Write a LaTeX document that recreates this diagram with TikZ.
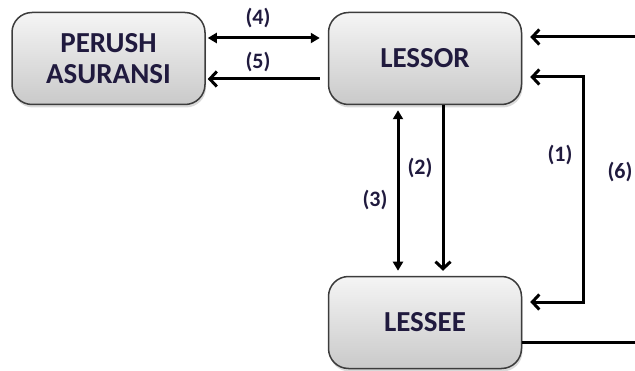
\documentclass[tikz,border=0pt]{standalone}
\usepackage{fontspec}
\setmainfont{Carlito}
\usetikzlibrary{positioning}
\usetikzlibrary{arrows.meta}
\usetikzlibrary{shadows}
\definecolor{txtdark}{RGB}{32,26,62}
\definecolor{boxline}{RGB}{60,60,60}
\tikzset{
	every node/.style = {font=\bfseries\fontsize{22}{26}\selectfont, text=txtdark},
	party/.style = {draw=boxline, line width=1.5pt, rounded corners=20pt,
		top color=gray!8, bottom color=gray!42,
		drop shadow={opacity=0.3, shadow xshift=1pt, shadow yshift=-3pt},
		minimum width=193pt, minimum height=92pt, align=center,
		font=\bfseries\fontsize{29}{31}\selectfont},
	flow/.style = {line width=3pt, black},
	fullhead/.style = {flow, {Triangle[length=9pt,width=10pt]}-{Triangle[length=9pt,width=10pt]}},
	openhead/.style = {flow, -{Straight Barb[length=7pt,width=15pt,line width=3pt]}},
	openboth/.style = {flow, {Straight Barb[length=7pt,width=15pt,line width=3pt]}-{Straight Barb[length=7pt,width=15pt,line width=3pt]}}
}

\begin{document}
\begin{tikzpicture}[x=1pt, y=1pt]
		\useasboundingbox (0,0) rectangle (635,370);
		% parties
		\node[party] (perush) at (108.5,311.5) {PERUSH\\ASURANSI};
		\node[party] (lessor) at (425,311.5) {LESSOR};
		\node[party] (lessee) at (425,47.5) {LESSEE};
		
		% free ends at the right edge
		\coordinate (edgetop) at (635,333);
		\coordinate (edgebot) at (635,28);
		
		% insurer and lessor
		\draw[fullhead, shorten <=2pt, shorten >=8pt] ([yshift=20.5pt]perush.east) -- ([yshift=20.5pt]lessor.west);
		\draw[openhead, shorten <=8pt, shorten >=2pt] ([yshift=-20.5pt]lessor.west) -- ([yshift=-20.5pt]perush.east);
		
		% lessor and lessee
		\draw[fullhead, shorten <=5pt, shorten >=5pt] ([xshift=-27pt]lessor.south) -- ([xshift=-27pt]lessee.north);
		\draw[openhead, shorten >=5pt] ([xshift=18pt]lessor.south) -- ([xshift=18pt]lessee.north);
		\draw[openboth, shorten <=8pt, shorten >=8pt] ([yshift=-18.5pt]lessor.east) -- ++(61pt,0) |- ([yshift=20.5pt]lessee.east);
		\draw[openhead, shorten >=8pt] (edgetop) -- ([yshift=21.5pt]lessor.east);
		\draw[flow] ([yshift=-19.5pt]lessee.east) -- (edgebot);
		
		% steps
		\node (s1) at (560,215) {(1)};
		\node (s2) at (420,202) {(2)};
		\node (s3) at (375,170) {(3)};
		\node (s4) at (258,352) {(4)};
		\node (s5) at (258,308) {(5)};
		\node (s6) at (620,198) {(6)};
	\end{tikzpicture}
\end{document}
